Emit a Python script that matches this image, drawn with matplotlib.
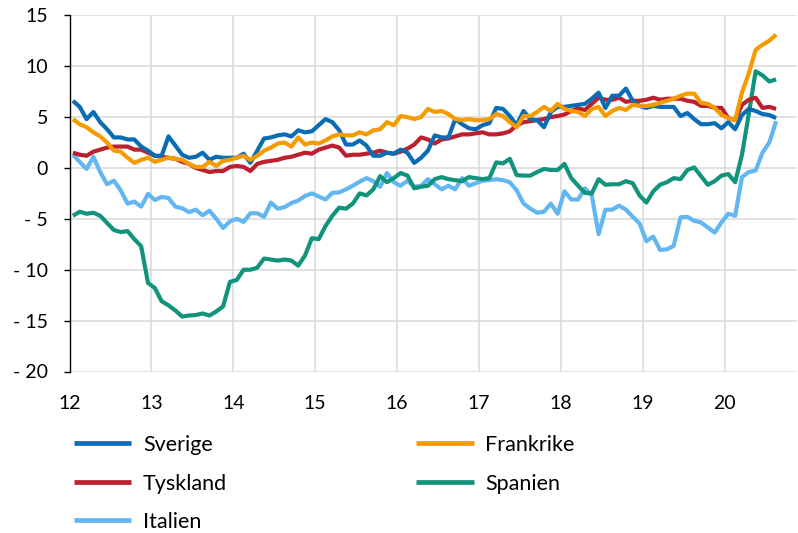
import matplotlib
matplotlib.use("Agg")
import matplotlib.pyplot as plt
from matplotlib.ticker import FixedLocator, FuncFormatter

plt.rcParams['font.family'] = ['Lato', 'DejaVu Sans']

# Monthly data, Jan 2012 - Aug 2020
start_year = 12
sverige = [6.6,6.0,4.8,5.5,4.5,3.8,3.0,3.0,2.8,2.8,2.1,1.7,1.2,1.2,3.1,2.2,1.3,1.0,1.1,1.5,0.8,1.1,1.0,1.0,
           1.0,1.4,0.5,1.7,2.9,3.0,3.2,3.3,3.1,3.7,3.5,3.6,4.2,4.8,4.5,3.7,2.3,2.3,2.7,2.2,1.2,1.2,1.5,1.4,
           1.8,1.5,0.5,1.0,1.7,3.2,3.0,3.0,4.8,4.3,3.9,3.8,4.2,4.4,5.9,5.8,5.1,4.2,5.6,4.8,4.7,4.0,5.5,6.0,
           6.0,6.1,6.2,6.3,6.8,7.4,5.9,7.1,7.1,7.8,6.6,6.1,5.9,6.1,6.0,6.0,
           6.0,5.1,5.4,4.8,4.3,4.3,4.4,3.9,4.5,3.8,5.2,5.8,5.6,5.3,5.2,4.9]
frankrike = [4.8,4.3,4.0,3.5,3.1,2.5,1.7,1.6,1.0,0.5,0.8,1.0,0.6,0.8,1.0,0.9,0.8,0.4,0.1,0.1,0.6,0.2,0.7,0.8,
             1.0,1.2,0.8,1.2,1.7,2.0,2.4,2.5,2.1,3.0,2.3,2.5,2.4,2.7,3.1,3.3,3.2,3.2,3.5,3.3,3.7,3.8,4.5,4.2,
             5.1,5.0,4.8,5.0,5.8,5.5,5.6,5.3,4.8,4.7,4.8,4.7,4.7,4.8,5.3,5.1,4.5,4.0,5.1,5.1,5.5,6.0,5.6,6.3,
             5.8,5.6,5.5,5.1,5.8,6.0,5.1,5.6,5.9,5.7,6.2,6.1,
             6.1,6.2,6.4,6.6,6.8,7.1,7.3,7.3,6.4,6.3,5.9,5.2,4.9,4.7,7.4,9.3,11.6,12.1,12.5,13.1]
tyskland = [1.5,1.3,1.2,1.6,1.8,2.0,2.1,2.1,2.1,1.8,1.8,1.5,1.2,1.1,1.0,0.9,0.6,0.4,0.0,-0.2,-0.4,-0.3,-0.3,0.1,
            0.2,0.1,-0.3,0.4,0.6,0.7,0.8,1.0,1.1,1.3,1.5,1.4,1.8,2.0,2.2,2.0,1.2,1.3,1.3,1.4,1.5,1.7,1.5,1.4,
            1.6,1.9,2.3,3.0,2.8,2.4,2.8,2.9,3.1,3.3,3.3,3.4,3.5,3.3,3.3,3.4,3.6,4.2,4.5,4.6,4.7,4.8,5.0,5.1,
            5.25,5.6,5.85,5.7,6.3,6.9,6.7,6.7,6.9,6.5,6.6,6.6,6.7,6.9,6.7,6.8,6.8,6.8,6.6,6.5,6.1,6.1,5.9,5.9,
            4.9,4.7,6.2,6.7,6.9,5.9,6.0,5.8]
spanien = [-4.7,-4.3,-4.5,-4.4,-4.7,-5.4,-6.1,-6.3,-6.2,-7.0,-7.7,-11.3,-11.8,-13.1,-13.5,-14.0,-14.6,-14.5,-14.45,-14.3,-14.5,-14.1,-13.6,-11.2,
           -11.0,-10.0,-10.0,-9.8,-8.9,-9.0,-9.1,-9.0,-9.1,-9.6,-8.6,-6.9,-7.0,-5.7,-4.7,-3.9,-4.0,-3.5,-2.5,-2.7,-2.1,-0.8,-1.4,-1.0,
           -0.5,-0.75,-2.0,-1.85,-1.75,-1.1,-0.9,-1.1,-1.2,-1.3,-0.9,-1.0,-1.1,-1.0,0.55,0.45,0.9,-0.7,-0.75,-0.75,-0.4,-0.1,-0.2,-0.2,
           0.4,-1.0,-1.75,-2.45,-2.5,-1.1,-1.65,-1.6,-1.6,-1.3,-1.5,-2.7,-3.4,-2.3,-1.65,-1.4,-1.0,-1.1,-0.2,0.05,-0.8,-1.65,-1.3,-0.75,
           -0.6,-1.4,1.3,5.3,9.5,9.1,8.5,8.7]
italien = [1.3,0.6,-0.1,1.1,-0.4,-1.6,-1.25,-2.2,-3.5,-3.3,-3.8,-2.55,-3.15,-2.85,-2.95,-3.8,-3.95,-4.35,-4.1,-4.65,-4.2,-5.0,-5.9,-5.25,
           -5.0,-5.3,-4.45,-4.45,-4.8,-3.4,-4.0,-3.85,-3.45,-3.2,-2.75,-2.5,-2.8,-3.1,-2.45,-2.4,-2.1,-1.75,-1.35,-1.0,-1.3,-1.85,-0.5,-1.4,
           -1.75,-1.25,-1.85,-1.75,-1.1,-1.6,-2.1,-1.75,-2.1,-1.0,-1.75,-1.5,-1.25,-1.2,-1.1,-1.2,-1.4,-2.2,-3.5,-4.0,-4.4,-4.3,-3.5,-4.5,
           -2.3,-3.1,-3.1,-2.0,-2.7,-6.5,-4.1,-4.1,-3.7,-4.1,-4.8,-5.45,-7.2,-6.75,-8.05,-8.0,-7.65,-4.85,-4.8,-5.2,-5.35,-5.85,-6.35,-5.35,
           -4.5,-4.7,-0.9,-0.4,-0.25,1.5,2.5,4.6]

x_tick_labels = ['12', '13', '14', '15', '16', '17', '18', '19', '20']
y_ticks = [-20, -15, -10, -5, 0, 5, 10, 15]

series = [
    ('Sverige', sverige, '#0A6DB4'),
    ('Tyskland', tyskland, '#BC1F2E'),
    ('Italien', italien, '#62B6F1'),
    ('Frankrike', frankrike, '#F59B00'),
    ('Spanien', spanien, '#12937B'),
]
draw_order = ['Italien', 'Spanien', 'Tyskland', 'Sverige', 'Frankrike']

fig = plt.figure(figsize=(7.98, 5.33), dpi=100)
ax = fig.add_axes([69.5/798, 1 - 371.5/533, (797 - 69.5)/798, (371.5 - 15.3)/533])

n = len(sverige)
xs = [start_year + (i + 0.5) / 12 for i in range(n)]
handles = {}
for name, vals, col in series:
    ln, = ax.plot(xs, vals, color=col, lw=3.0, label=name,
                  zorder=3 + draw_order.index(name), solid_capstyle='butt')
    handles[name] = ln

ax.set_xlim(12, 20.88)
ax.set_ylim(-20, 15)
ax.xaxis.set_major_locator(FixedLocator([int(t) for t in x_tick_labels]))
ax.set_xticklabels(x_tick_labels)
ax.yaxis.set_major_locator(FixedLocator(y_ticks))
ax.yaxis.set_major_formatter(FuncFormatter(lambda v, p: f"- {abs(int(v))}" if v < 0 else f"{int(v)}"))

ax.grid(True, color='#D9D9D9', lw=1.1, zorder=0)
ax.set_axisbelow(True)
for s in ['top', 'right', 'bottom']:
    ax.spines[s].set_visible(False)
ax.spines['left'].set_color('black')
ax.spines['left'].set_linewidth(1.0)
ax.spines['left'].set_zorder(10)
ax.tick_params(axis='y', length=4.5, width=1.0, color='black', pad=11, labelsize=14, labelcolor='black')
ax.tick_params(axis='x', length=0, pad=17, labelsize=14, labelcolor='black')

order = ['Sverige', 'Tyskland', 'Italien', 'Frankrike', 'Spanien']
leg = fig.legend([handles[k] for k in order], order, ncol=2, loc='upper left',
                 bbox_to_anchor=(74/798, 1 - 435/533), frameon=False, fontsize=15.5,
                 handlelength=2.65, handletextpad=0.55, columnspacing=8.8, labelspacing=0.86,
                 borderaxespad=0, borderpad=0)
for l in leg.get_lines():
    l.set_linewidth(3.4)

fig.savefig('out.png', dpi=100)
